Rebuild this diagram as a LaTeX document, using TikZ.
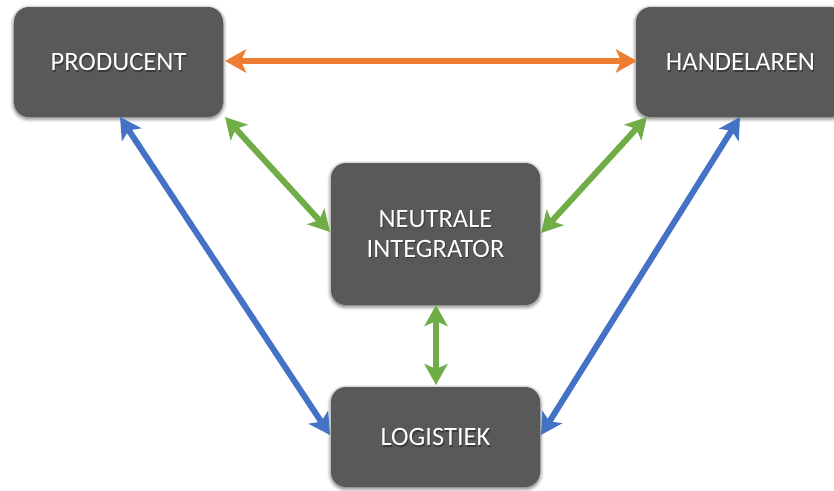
\documentclass[tikz,border=0pt]{standalone}
\usepackage{fontspec}
\setmainfont{Carlito}
\usetikzlibrary{arrows.meta,shadows.blur}
\definecolor{boxgray}{HTML}{595959}
\definecolor{oorange}{HTML}{ED7D31}
\definecolor{ogreen}{HTML}{70AD47}
\definecolor{oblue}{HTML}{4472C4}
\tikzset{
  box/.style={fill=boxgray, rounded corners=15pt, inner sep=0pt,
    blur shadow={shadow xshift=0pt, shadow yshift=-1.5pt, shadow blur radius=4pt, shadow blur steps=8, shadow opacity=60}},
  lbl/.style={text=white, font=\fontsize{26.5}{30}\selectfont, align=center},
  tshadow/.style={text=black, opacity=0.35, font=\fontsize{26.5}{30}\selectfont, align=center},
  dbl/.style={line width=6pt, {Stealth[length=21pt,width=23pt,inset=5pt]}-{Stealth[length=21pt,width=23pt,inset=5pt]}},
}
\begin{document}
\begin{tikzpicture}[x=1pt,y=-1pt]
\useasboundingbox (0,0) rectangle (834,490);
% boxes
\node[box, minimum width=209pt, minimum height=110pt] (prod) at (118.5,62) {};
\node[box, minimum width=209pt, minimum height=110pt] (hand) at (740.5,62) {};
\node[box, minimum width=209pt, minimum height=142pt] (neut) at (435.5,234) {};
\node[box, minimum width=209pt, minimum height=100pt] (logi) at (435.5,437) {};
% labels
\foreach \p/\t in {prod/PRODUCENT, hand/HANDELAREN, neut/{NEUTRALE\\INTEGRATOR}, logi/LOGISTIEK}{
  \node[tshadow] at ([xshift=1pt,yshift=-1.5pt]\p.center) {\t};
  \node[lbl] (\p-t) at (\p.center) {\t};
}
% anchor points for connectors
\coordinate (o1) at (225,61);
\coordinate (o2) at (637,61);
\coordinate (g1a) at (225,117);
\coordinate (g1b) at (330,232);
\coordinate (g2a) at (647,117);
\coordinate (g2b) at (541,233);
\coordinate (g3a) at (436,305);
\coordinate (g3b) at (436,385);
\coordinate (b1a) at (120,117);
\coordinate (b1b) at (330,435);
\coordinate (b2a) at (740,117);
\coordinate (b2b) at (541,435);
% connectors
\draw[dbl, oorange] (o1) -- (o2);
\draw[dbl, ogreen] (g1a) -- (g1b);
\draw[dbl, ogreen] (g2a) -- (g2b);
\draw[dbl, ogreen] (g3a) -- (g3b);
\draw[dbl, oblue] (b1a) -- (b1b);
\draw[dbl, oblue] (b2a) -- (b2b);
\end{tikzpicture}
\end{document}
